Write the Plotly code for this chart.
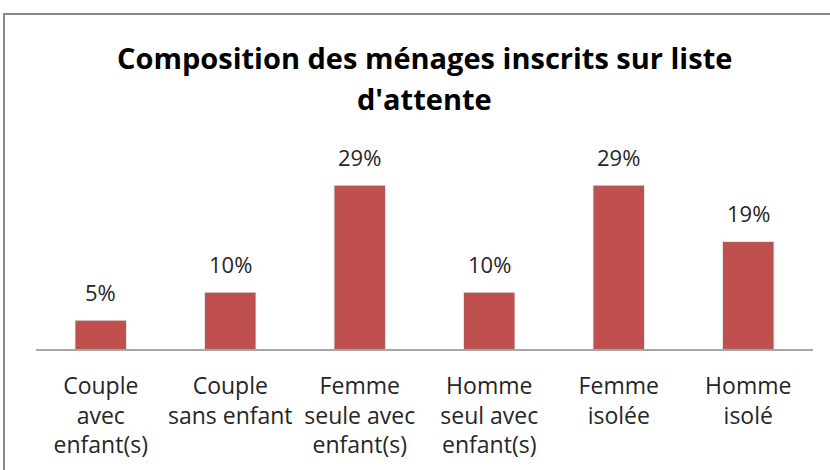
import plotly.graph_objects as go

categories = ["Couple<br>avec<br>enfant(s)", "Couple<br>sans enfant", "Femme<br>seule avec<br>enfant(s)",
              "Homme<br>seul avec<br>enfant(s)", "Femme<br>isolée", "Homme<br>isolé"]
values = [0.05, 0.10, 0.29, 0.10, 0.29, 0.19]
labels = ["5%", "10%", "29%", "10%", "29%", "19%"]
title_line1 = "Composition des ménages inscrits sur liste"
title_line2 = "d'attente"

FONT = "'Open Sans', 'Noto Sans', sans-serif"
xs = list(range(len(categories)))

fig = go.Figure()
fig.add_trace(go.Bar(
    x=xs, y=values, width=0.39,
    marker=dict(color="#C0504D", line=dict(color="rgba(120,120,120,0.25)", width=1.5)),
    hoverinfo="skip",
))
for x, v, t in zip(xs, values, labels):
    fig.add_annotation(x=x, y=v, text=t, showarrow=False, yanchor="bottom", yshift=12,
                       font=dict(family=FONT, size=22, color="#262626"))

fig.add_annotation(xref="paper", yref="paper", x=0.5, y=1.0, yshift=95, text="<b>" + title_line1 + "</b>",
                   showarrow=False, yanchor="middle", font=dict(family=FONT, size=29, color="#000000"))
fig.add_annotation(xref="paper", yref="paper", x=0.5, y=1.0, yshift=54, text="<b>" + title_line2 + "</b>",
                   showarrow=False, yanchor="middle", font=dict(family=FONT, size=29, color="#000000"))

# chart border (gray frame)
fig.add_shape(type="rect", xref="paper", yref="paper", x0=-0.0412, y0=-0.65, x1=1.03, y1=1.7005,
              line=dict(color="#8a8a8a", width=2), fillcolor="rgba(0,0,0,0)", layer="below")

fig.update_layout(
    width=830, height=470,
    margin=dict(l=36, r=17, t=152, b=121, autoexpand=False),
    paper_bgcolor="white", plot_bgcolor="white",
    showlegend=False,
    font=dict(family=FONT, size=23, color="#262626"),
    xaxis=dict(tickmode="array", tickvals=xs, ticktext=categories, range=[-0.5, 5.5],
               showgrid=False, zeroline=False, showline=True, linecolor="#a6a6a6", linewidth=2,
               ticks="outside", ticklen=15, tickcolor="rgba(0,0,0,0)", automargin=False,
               tickfont=dict(family=FONT, size=23, color="#262626"), tickangle=0),
    yaxis=dict(range=[0, 0.35], visible=False, showgrid=False, zeroline=False),
)
fig.write_html("out.html", config={"displayModeBar": False},
               post_script="document.body.style.margin='0';document.body.style.overflow='hidden';")
